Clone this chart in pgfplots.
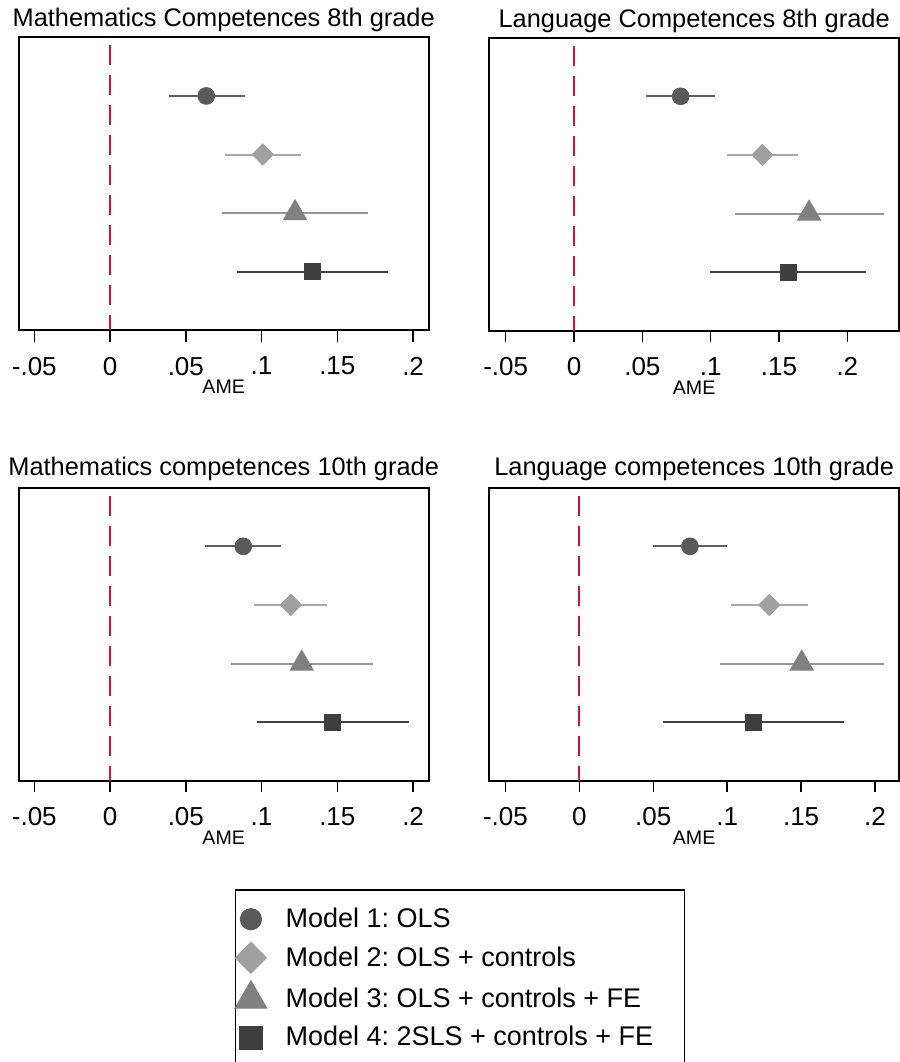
\documentclass[border=0pt]{standalone}
\usepackage{fontspec}
\setmainfont{Liberation Sans}
\usepackage{pgfplots}
\pgfplotsset{compat=1.18}
\frenchspacing

\definecolor{cA}{RGB}{90,90,90}
\definecolor{cB}{RGB}{160,160,160}
\definecolor{cC}{RGB}{128,128,128}
\definecolor{cD}{RGB}{62,62,62}
\definecolor{ciA}{RGB}{96,96,96}
\definecolor{ciB}{RGB}{170,170,170}
\definecolor{ciC}{RGB}{150,150,150}
\definecolor{ciD}{RGB}{66,66,66}
\definecolor{refred}{RGB}{200,20,65}

\pgfplotsset{
  panel/.style={
    scale only axis, width=205pt, height=146.5pt,
    anchor=south west,
    ymin=0, ymax=5, y dir=reverse, ytick=\empty,
    xtick={-0.05,0,0.05,0.1,0.15,0.2},
    xticklabels={-.05,0,.05,.1,.15,.2},
    xtick pos=bottom,
    tick align=outside, major tick length=5.8pt,
    axis line style={line width=0.85pt},
    every tick/.style={black, line width=0.75pt},
    xticklabel style={font=\fontsize{13}{15}\selectfont, inner sep=0pt, yshift=-7.3pt},
    xlabel=AME,
    xlabel style={font=\fontsize{9.8}{11}\selectfont, inner sep=0pt, at={(axis description cs:0.5,0)}, anchor=base, yshift=-31.8pt},
    /pgfplots/every axis title/.style={font=\fontsize{12.7}{15}\selectfont, at={(axis description cs:0.5,1)}, anchor=base, yshift=5.2pt},
  },
  lower/.style={/pgfplots/every axis title/.append style={yshift=0.7pt}},
  ci/.style={line width=1pt, forget plot},
  zero/.style={refred, line width=1pt, dash pattern=on 10pt off 5pt, dash phase=11pt, forget plot},
  mA/.style={only marks, mark=*, mark size=4.2pt, color=cA, forget plot},
  mB/.style={only marks, mark=square*, mark options={rotate=45}, mark size=3.75pt, color=cB, forget plot},
  mC/.style={only marks, mark=triangle*, mark size=6.7pt, color=cC, forget plot},
  mD/.style={only marks, mark=square*, mark size=4.05pt, color=cD, forget plot},
}

\begin{document}
\begin{tikzpicture}
% ---------------- Panel 1 ----------------
\begin{axis}[panel, at={(9.35pt,-165.15pt)}, xmin=-0.0603, xmax=0.2103,
  title={Mathematics Competences 8th grade}]
\addplot[zero] coordinates {(0,0) (0,5)};
\addplot[ciA, ci] coordinates {(0.0387,1) (0.0888,1)};
\addplot[ciB, ci] coordinates {(0.0760,2) (0.1257,2)};
\addplot[ciC, ci] coordinates {(0.0740,3) (0.1705,3)};
\addplot[ciD, ci] coordinates {(0.0841,4) (0.1834,4)};
\addplot[mA] coordinates {(0.0635,1)};
\addplot[mB] coordinates {(0.1008,2)};
\addplot[mC] coordinates {(0.1221,3)};
\addplot[mD] coordinates {(0.1338,4)};
\end{axis}
% ---------------- Panel 2 ----------------
\begin{axis}[panel, at={(244.65pt,-165.35pt)}, width=204.85pt, xmin=-0.0620, xmax=0.2378,
  title={Language Competences 8th grade}]
\addplot[zero] coordinates {(0,0) (0,5)};
\addplot[ciA, ci] coordinates {(0.0527,1) (0.1029,1)};
\addplot[ciB, ci] coordinates {(0.1120,2) (0.1641,2)};
\addplot[ciC, ci] coordinates {(0.1180,3) (0.2268,3)};
\addplot[ciD, ci] coordinates {(0.0998,4) (0.2139,4)};
\addplot[mA] coordinates {(0.0780,1)};
\addplot[mB] coordinates {(0.1378,2)};
\addplot[mC] coordinates {(0.1720,3)};
\addplot[mD] coordinates {(0.1566,4)};
\end{axis}
% ---------------- Panel 3 ----------------
\begin{axis}[panel, lower, at={(9.35pt,-390.35pt)}, xmin=-0.0603, xmax=0.2103,
  title={Mathematics competences 10th grade},
  legend style={at={(0.5268,-0.3706)}, anchor=north west, draw=black, line width=0.65pt,
    font=\fontsize{13.5}{15}\selectfont, inner xsep=0pt, inner ysep=7pt,
    column sep=7.5pt, row sep=4pt},
  legend cell align=left]
\addlegendimage{only marks, mark=*, mark size=5.2pt, color=cA}
\addlegendentry{Model 1: OLS}
\addlegendimage{only marks, mark=square*, mark options={rotate=45}, mark size=5.4pt, color=cB}
\addlegendentry{Model 2: OLS + controls}
\addlegendimage{only marks, mark=triangle*, mark size=9pt, color=cC}
\addlegendentry{Model 3: OLS + controls + FE}
\addlegendimage{only marks, mark=square*, mark size=5.6pt, color=cD}
\addlegendentry{Model 4: 2SLS + controls + FE\hspace*{13.8pt}}
\addplot[zero] coordinates {(0,0) (0,5)};
\addplot[ciA, ci] coordinates {(0.0626,1) (0.1129,1)};
\addplot[ciB, ci] coordinates {(0.0953,2) (0.1435,2)};
\addplot[ciC, ci] coordinates {(0.0797,3) (0.1735,3)};
\addplot[ciD, ci] coordinates {(0.0971,4) (0.1973,4)};
\addplot[mA] coordinates {(0.0879,1)};
\addplot[mB] coordinates {(0.1193,2)};
\addplot[mC] coordinates {(0.1265,3)};
\addplot[mD] coordinates {(0.1470,4)};
\end{axis}
% ---------------- Panel 4 ----------------
\begin{axis}[panel, lower, at={(244.65pt,-390.35pt)}, width=204.85pt, xmin=-0.0609, xmax=0.2162,
  title={Language competences 10th grade}]
\addplot[zero] coordinates {(0,0) (0,5)};
\addplot[ciA, ci] coordinates {(0.0496,1) (0.1001,1)};
\addplot[ciB, ci] coordinates {(0.1023,2) (0.1549,2)};
\addplot[ciC, ci] coordinates {(0.0951,3) (0.2060,3)};
\addplot[ciD, ci] coordinates {(0.0568,4) (0.1792,4)};
\addplot[mA] coordinates {(0.0748,1)};
\addplot[mB] coordinates {(0.1285,2)};
\addplot[mC] coordinates {(0.1504,3)};
\addplot[mD] coordinates {(0.1179,4)};
\end{axis}
\pgfresetboundingbox
\useasboundingbox (0,0) rectangle (450pt,-531pt);
\end{tikzpicture}
\end{document}
